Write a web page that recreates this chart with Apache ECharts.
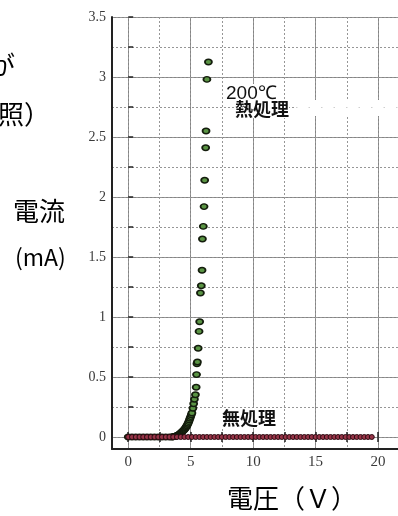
<!DOCTYPE html>
<html><head><meta charset="utf-8">
<script src="https://cdn.jsdelivr.net/npm/echarts@6/dist/echarts.min.js"></script>
<style>html,body{margin:0;padding:0;background:#fff}#c{width:398px;height:516px}</style>
</head><body><div id="c"></div>
<script>
// tick labels
const xLabelValues = [0, 5, 10, 15, 20];
const xMinorValues = [0, 2.5, 5, 7.5, 10, 12.5, 15, 17.5, 20];
const yLabelValues = [0, 0.5, 1, 1.5, 2, 2.5, 3, 3.5];
const yMinorValues = [0, 0.25, 0.5, 0.75, 1, 1.25, 1.5, 1.75, 2, 2.25, 2.5, 2.75, 3, 3.25, 3.5];

// 無処理 (untreated)
const untreatedVoltage = [0,0.3,0.6,0.9,1.2,1.5,1.8,2.1,2.4,2.7,3.0,3.3,3.6,3.9,4.2,4.5,4.8,5.1,5.4,5.7,6.0,6.3,6.6,6.9,7.2,7.5,7.8,8.1,8.4,8.7,9.0,9.3,9.6,9.9,10.2,10.5,10.8,11.1,11.4,11.7,12.0,12.3,12.6,12.9,13.2,13.5,13.8,14.1,14.4,14.7,15.0,15.3,15.6,15.9,16.2,16.5,16.8,17.1,17.4,17.7,18.0,18.3,18.6,18.9,19.2,19.5];
const untreatedCurrent = [0,0,0,0,0,0,0,0,0,0,0,0,0,0,0,0,0,0,0,0,0,0,0,0,0,0,0,0,0,0,0,0,0,0,0,0,0,0,0,0,0,0,0,0,0,0,0,0,0,0,0,0,0,0,0,0,0,0,0,0,0,0,0,0,0,0];

// 200℃ 熱処理 (heat treated)
const heatedVoltage = [0,0.3,0.6,0.9,1.2,1.5,1.8,2.1,2.4,2.7,3.0,3.3,3.50,3.55,3.60,3.65,3.70,3.75,3.80,3.85,3.90,3.95,4.00,4.05,4.10,4.15,4.20,4.25,4.30,4.35,4.40,4.45,4.50,4.55,4.6,4.65,4.7,4.75,4.8,4.85,4.9,4.95,5.0,5.05,5.10,5.18,5.24,5.30,5.38,5.44,5.47,5.50,5.54,5.60,5.67,5.72,5.78,5.85,5.91,5.94,6.01,6.07,6.12,6.20,6.23,6.30,6.42];
const heatedCurrent = [0,0,0,0,0,0,0,0,0,0,0,0,0,0.001,0.002,0.003,0.004,0.005,0.007,0.009,0.012,0.014,0.017,0.020,0.024,0.028,0.032,0.037,0.042,0.047,0.052,0.057,0.063,0.07,0.077,0.085,0.094,0.104,0.115,0.128,0.142,0.156,0.170,0.185,0.20,0.24,0.277,0.315,0.352,0.415,0.52,0.61,0.625,0.74,0.88,0.96,1.20,1.26,1.39,1.65,1.755,1.92,2.14,2.41,2.55,2.98,3.125];

const xMin = -1.3, xMax = 21.6, yMin = -0.1, yMax = 3.5;

const chart = echarts.init(document.getElementById('c'), null, {renderer: 'canvas'});
const solid = {show: true, lineStyle: {color: '#858585', width: 1, type: 'solid'}};
const dotted = {show: true, lineStyle: {color: '#969696', width: 1, type: [2, 2]}};
const labelFont = {fontFamily: 'Liberation Serif', fontSize: 15, color: '#3a3a3a'};
const cjk = '"Noto Sans CJK JP"';

chart.setOption({
  animation: false,
  grid: {left: 112, top: 17, right: 0, bottom: 67, containLabel: false},
  xAxis: [
    {type: 'value', position: 'bottom', min: xMin, max: xMax,
     axisLine: {show: true, onZero: false, lineStyle: {color: '#222', width: 2}},
     axisTick: {show: false, customValues: xLabelValues},
     axisLabel: Object.assign({show: true, margin: 6, customValues: xLabelValues}, labelFont),
     splitLine: solid},
    {type: 'value', position: 'top', min: xMin, max: xMax,
     axisLine: {show: false},
     axisTick: {show: true, inside: true, length: 5, customValues: xMinorValues, lineStyle: {color: '#222', width: 1.5}},
     axisLabel: {show: false},
     splitLine: dotted},
    {type: 'value', position: 'bottom', min: xMin, max: xMax,
     axisLine: {show: false},
     axisTick: {show: true, inside: true, length: 5, customValues: xMinorValues, lineStyle: {color: '#222', width: 1.5}},
     axisLabel: {show: false},
     splitLine: {show: false}}
  ],
  yAxis: [
    {type: 'value', position: 'left', min: yMin, max: yMax,
     axisLine: {show: true, onZero: false, lineStyle: {color: '#222', width: 2}},
     axisTick: {show: false, customValues: yLabelValues},
     axisLabel: Object.assign({show: true, margin: 6, customValues: yLabelValues}, labelFont, {fontSize: 14}),
     splitLine: solid},
    {type: 'value', position: 'left', min: yMin, max: yMax,
     axisLine: {show: false},
     axisTick: {show: true, inside: true, length: 5, customValues: yMinorValues, lineStyle: {color: '#222', width: 1.5}},
     axisLabel: {show: false},
     splitLine: dotted}
  ],
  series: [
    {name: '200℃熱処理', type: 'scatter', xAxisIndex: 0, yAxisIndex: 0, z: 3,
     symbol: 'circle', symbolSize: [7, 5.5],
     itemStyle: {color: '#5a9444', borderColor: '#141d0d', borderWidth: 1.6, opacity: 1},
     data: heatedVoltage.map((v, i) => [v, heatedCurrent[i]])},
    {name: '無処理', type: 'scatter', xAxisIndex: 0, yAxisIndex: 0, z: 4,
     symbol: 'circle', symbolSize: 5,
     itemStyle: {color: '#973447', borderColor: '#2c0910', borderWidth: 1, opacity: 1},
     data: untreatedVoltage.map((v, i) => [v, untreatedCurrent[i]])}
  ],
  graphic: [
    {type: 'rect', left: 294, top: 100, z: 50, shape: {width: 104, height: 16}, style: {fill: '#fff'}},
    {type: 'line', z: 51, shape: {x1: 296, y1: 107.5, x2: 398, y2: 107.5}, style: {stroke: '#cfcfcf', lineWidth: 1.2, lineDash: [1.5, 11]}},
    {type: 'text', left: 225, top: 84, z: 52, style: {text: '200℃', font: '19px "Liberation Sans"', fill: '#111', backgroundColor: '#fff', padding: [0, 1, 0, 1]}},
    {type: 'text', left: 235, top: 100, z: 52, style: {text: '熱処理', font: 'bold 18px ' + cjk, fill: '#111', backgroundColor: '#fff'}},
    {type: 'text', left: 221, top: 408, z: 52, style: {text: '無処理', font: 'bold 18px ' + cjk, fill: '#111', backgroundColor: '#fff', padding: [1, 1, 1, 1]}},
    {type: 'text', left: -11, top: 52, z: 52, style: {text: 'が', font: '26px ' + cjk, fill: '#000'}},
    {type: 'text', left: -28, top: 101, z: 52, style: {text: '参照）', font: '26px ' + cjk, fill: '#000'}},
    {type: 'text', left: 13, top: 198, z: 52, style: {text: '電流', font: '26px ' + cjk, fill: '#000'}},
    {type: 'text', left: 15, top: 246, z: 52, style: {text: '(mA)', font: '23px ' + cjk, fill: '#000'}},
    {type: 'text', left: 227, top: 485, z: 52, style: {text: '電圧（Ｖ）', font: '26px ' + cjk, fill: '#000'}}
  ]
});
</script>
</body></html>
